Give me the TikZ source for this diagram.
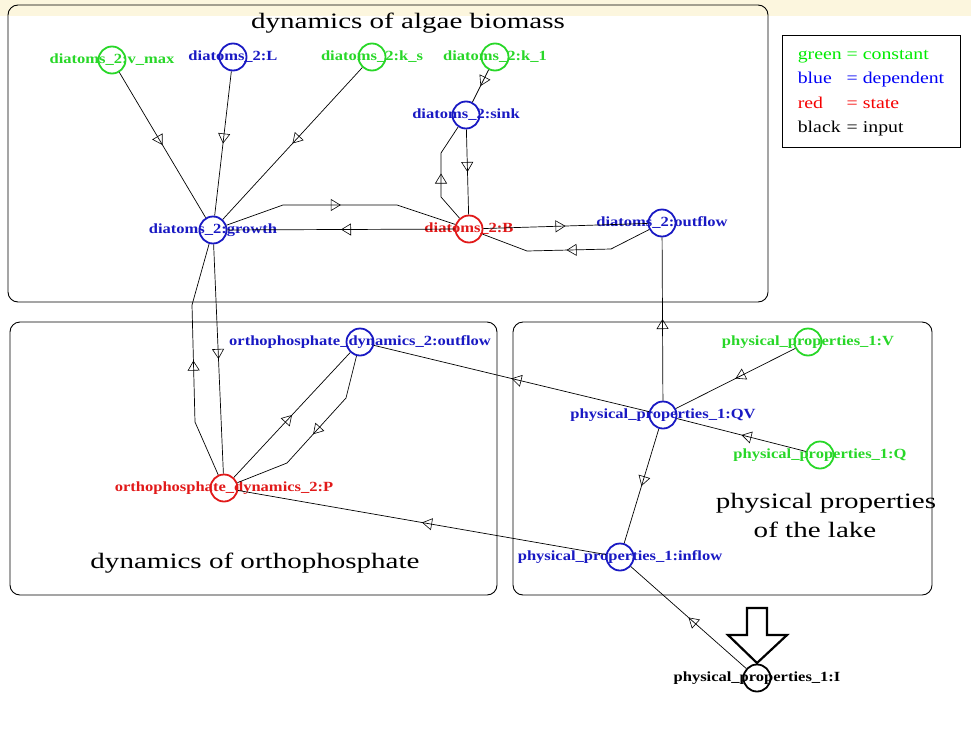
\documentclass[tikz,border=0pt]{standalone}
\usepackage{fontspec}
\setmainfont{Liberation Serif}
\usetikzlibrary{arrows.meta,decorations.markings}

\definecolor{constgreen}{RGB}{40,215,40}
\definecolor{depblue}{RGB}{25,25,195}
\definecolor{statered}{RGB}{225,25,25}
\definecolor{bandyellow}{RGB}{252,246,222}

% horizontally widened text
\newcommand{\hwide}[2]{\scalebox{#1}[1]{#2}}

\tikzset{
    lab/.style={font=\fontsize{14}{16}\selectfont\bfseries, inner sep=0pt},
    var/.style={circle, draw, line width=1.8pt, minimum size=27pt, inner sep=0pt},
    constvar/.style={var, draw=constgreen, label={[lab, text=constgreen]center:{\hwide{1.18}{#1}}}},
    depvar/.style={var, draw=depblue, label={[lab, text=depblue]center:{\hwide{1.18}{#1}}}},
    statevar/.style={var, draw=statered, label={[lab, text=statered]center:{\hwide{1.18}{#1}}}},
    inputvar/.style={var, draw=black, label={[lab, text=black]center:{\hwide{1.18}{#1}}}},
    flow/.style={line width=0.7pt, postaction={decorate, decoration={markings,
        mark=at position #1 with {\arrow[line width=0.6pt]{Triangle[open, length=10pt, width=12pt]}}}}},
    flow/.default=0.5,
    group/.style={draw, rounded corners=10pt, line width=0.9pt},
    title/.style={font=\fontsize{22}{26}\selectfont, inner sep=0pt, anchor=base},
}

\begin{document}
\begin{tikzpicture}[x=1pt, y=-1pt]
    \useasboundingbox (0,0) rectangle (971,731);
    \fill[bandyellow] (0,0) rectangle (971,16);

    % --- groups ---
    \draw[group] (8,5) rectangle (768,302);
    \draw[group] (10,322) rectangle (497,595);
    \draw[group] (513,322) rectangle (932,595);

    \node[title] (tAlgae) at (408,28) {\hwide{1.32}{dynamics of algae biomass}};
    \node[title] (tOrtho) at (255,568) {\hwide{1.32}{dynamics of orthophosphate}};
    \node[title] (tPhysA) at (826,508) {\hwide{1.32}{physical properties}};
    \node[title] (tPhysB) at (815,537) {\hwide{1.32}{of the lake}};

    % --- legend ---
    \node[draw, line width=0.7pt, minimum width=178pt, minimum height=112pt, inner sep=0pt] (legend) at (871,91) {%
        \fontsize{16.5}{24.5}\selectfont
        \hwide{1.2}{\begin{tabular}{@{}l@{\ }l@{}}
            \color[RGB]{0,235,0}green & \color[RGB]{0,235,0}= constant\\
            \color[RGB]{0,0,245}blue & \color[RGB]{0,0,245}= dependent\\
            \color[RGB]{245,0,0}red & \color[RGB]{245,0,0}= state\\
            black & = input
        \end{tabular}}};

    % --- algae biomass ---
    \node[constvar={diatoms\_2:v\_max}] (vmax) at (112,60) {};
    \node[depvar={diatoms\_2:L}] (L) at (233,57) {};
    \node[constvar={diatoms\_2:k\_s}] (ks) at (372,57) {};
    \node[constvar={diatoms\_2:k\_1}] (k1) at (495,57) {};
    \node[depvar={diatoms\_2:sink}] (sink) at (466,115) {};
    \node[depvar={diatoms\_2:growth}] (growth) at (213,230) {};
    \node[statevar={diatoms\_2:B}] (B) at (469,229) {};
    \node[depvar={diatoms\_2:outflow}] (dout) at (662,223) {};

    % --- orthophosphate ---
    \node[depvar={orthophosphate\_dynamics\_2:outflow}] (oout) at (360,342) {};
    \node[statevar={orthophosphate\_dynamics\_2:P}] (P) at (224,488) {};

    % --- physical properties ---
    \node[constvar={physical\_properties\_1:V}] (V) at (808,342) {};
    \node[depvar={physical\_properties\_1:QV}] (QV) at (663,415) {};
    \node[constvar={physical\_properties\_1:Q}] (Q) at (820,455) {};
    \node[depvar={physical\_properties\_1:inflow}] (inflow) at (620,557) {};
    \node[inputvar={physical\_properties\_1:I}] (I) at (757,678) {};

    % --- connections ---
    \foreach \a/\b in {vmax/growth, L/growth, ks/growth, k1/sink, sink/B, growth/P,
        P/oout, B/growth, B/dout, QV/dout, QV/oout, V/QV, Q/QV, QV/inflow, inflow/P, I/inflow} {
        \draw[flow] (\a) -- (\b);
    }
    \draw[flow] (B) -- (441,197) -- (441,153) -- (sink);
    \draw[flow] (growth) -- (283,205) -- (397,205) -- (B);
    \draw[flow] (dout) -- (611,249) -- (527,251) -- (B);
    \draw[flow] (P) -- (195,422) -- (192,305) -- (growth);
    \draw[flow] (oout) -- (346,398) -- (287,463) -- (P);

    % input arrow
    \draw[line width=2.2pt, line join=miter] (747,608) -- (767,608) -- (767,635) -- (787,635)
        -- (757,663) -- (728,635) -- (747,635) -- cycle;
\end{tikzpicture}
\end{document}
